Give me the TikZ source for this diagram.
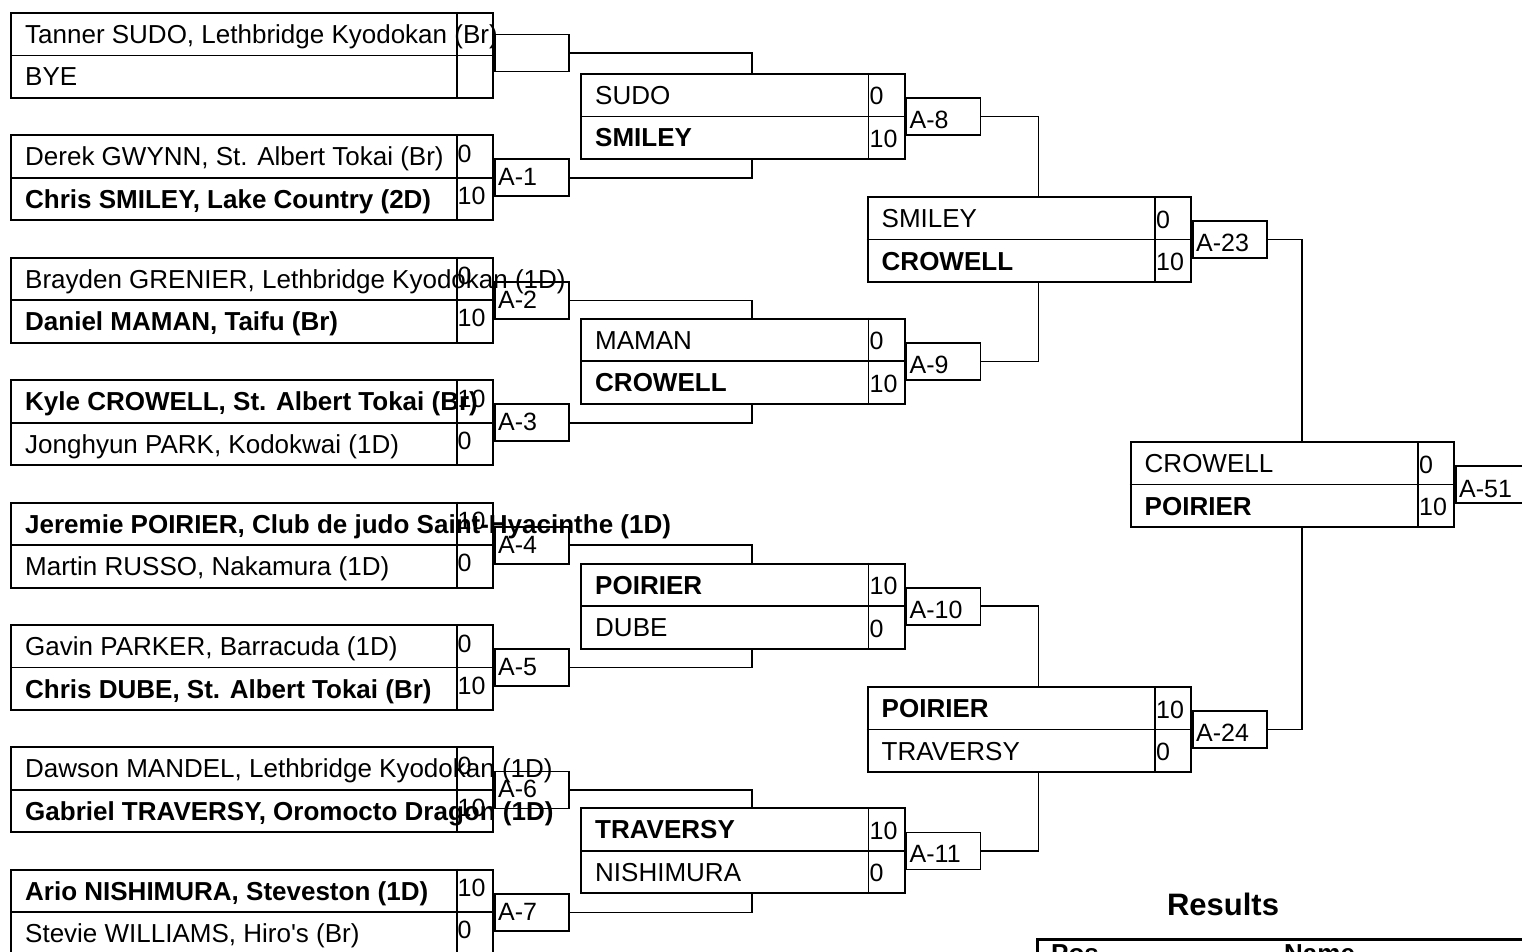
\documentclass[tikz,border=0pt]{standalone}
\usepackage{fontspec}
\setmainfont{Liberation Sans}
\newfontfamily\plainsans{Liberation Sans}
\usetikzlibrary{calc}
\newcommand\nmf{\fontsize{26}{28}\selectfont}
\newcommand\scf{\fontsize{25}{27}\selectfont}
\newcommand\alf{\fontsize{25}{26}\selectfont}
\tikzset{
  nm/.style={font=\nmf, anchor=base west, inner sep=0pt},
  sc/.style={font=\scf, anchor=base west, inner sep=0pt},
  al/.style={font=\alf, anchor=base west, inner sep=0pt},
  mbox/.style={draw, line width=2pt, rectangle, inner sep=0pt, minimum height=85, anchor=north west},
  abox/.style={draw, line width=1.8pt, rectangle, inner sep=0pt, minimum width=74, minimum height=37, anchor=west},
  ln/.style={line width=1.8pt},
  cn/.style={line width=1.6pt},
}
% round one match: name, top, toptext, topscore, bottext, botscore
\newcommand\rone[6]{%
  \node[nm] (#1t) at (25,{#2+31.5}) {#3};
  \node[nm] (#1b) at (25,{#2+74}) {#5};
  \node[sc] (#1ts) at (457.5,{#2+28}) {#4};
  \node[sc] (#1bs) at (457.5,{#2+70}) {#6};
  \node[mbox, minimum width=482] (#1) at (10,#2) {};
  \draw[ln] (#1.west) -- (#1.east);
  \draw[ln] ($(#1.north east)+(-37,0)$) -- ($(#1.south east)+(-37,0)$);
}
% later match: name, left, top, toptext, topscore, bottext, botscore
\newcommand\rgen[7]{%
  \node[nm] (#1t) at ({#2+15},{#3+31.5}) {#4};
  \node[nm] (#1b) at ({#2+15},{#3+74}) {#6};
  \node[sc] (#1ts) at ({#2+289.5},{#3+32}) {#5};
  \node[sc] (#1bs) at ({#2+289.5},{#3+74.5}) {#7};
  \node[mbox, minimum width=323.5] (#1) at (#2,#3) {};
  \draw[ln] (#1.west) -- (#1.east);
  \draw[ln] ($(#1.north east)+(-37,0)$) -- ($(#1.south east)+(-37,0)$);
}
\begin{document}
\begin{tikzpicture}[x=1pt,y=-1pt]
\useasboundingbox (0,0) rectangle (1522,952);
\clip (0,0) rectangle (1522,952);

% ---------- round 1 ----------
\rone{p0}{12}{Tanner SUDO, Lethbridge Kyodokan (Br)}{}{BYE}{}
\rone{p1}{134.4}{Derek GWYNN, St. Albert Tokai (Br)}{0}{\bfseries Chris SMILEY, Lake Country (2D)}{10}
\rone{p2}{256.8}{Brayden GRENIER, Lethbridge Kyodokan (1D)}{0}{\bfseries Daniel MAMAN, Taifu (Br)}{10}
\rone{p3}{379.2}{\bfseries Kyle CROWELL, St. Albert Tokai (Br)}{10}{Jonghyun PARK, Kodokwai (1D)}{0}
\rone{p4}{501.6}{\bfseries Jeremie POIRIER, Club de judo Saint-Hyacinthe (1D)}{10}{Martin RUSSO, Nakamura (1D)}{0}
\rone{p5}{624}{Gavin PARKER, Barracuda (1D)}{0}{\bfseries Chris DUBE, St. Albert Tokai (Br)}{10}
\rone{p6}{746.4}{Dawson MANDEL, Lethbridge Kyodokan (1D)}{0}{\bfseries Gabriel TRAVERSY, Oromocto Dragon (1D)}{10}
\rone{p7}{868.8}{\bfseries Ario NISHIMURA, Steveston (1D)}{10}{Stevie WILLIAMS, Hiro{\plainsans'}s (Br)}{0}

% ---------- round 2 ----------
\rgen{q0}{580}{73}{SUDO}{0}{\bfseries SMILEY}{10}
\rgen{q1}{580}{317.8}{MAMAN}{0}{\bfseries CROWELL}{10}
\rgen{q2}{580}{562.6}{\bfseries POIRIER}{10}{DUBE}{0}
\rgen{q3}{580}{807.4}{\bfseries TRAVERSY}{10}{NISHIMURA}{0}

% ---------- round 3 ----------
\rgen{s0}{866.5}{196}{SMILEY}{0}{\bfseries CROWELL}{10}
\rgen{s1}{866.5}{686}{\bfseries POIRIER}{10}{TRAVERSY}{0}

% ---------- round 4 ----------
\rgen{f0}{1129.5}{441}{CROWELL}{0}{\bfseries POIRIER}{10}

% ---------- match labels (round 1) ----------
\node[al] (l1) at ($(p1.east)+(4,8)$) {A-1};
\node[al] (l2) at ($(p2.east)+(4,8)$) {A-2};
\node[al] (l3) at ($(p3.east)+(4,8)$) {A-3};
\node[al] (l4) at ($(p4.east)+(4,8)$) {A-4};
\node[al] (l5) at ($(p5.east)+(4,8)$) {A-5};
\node[al] (l6) at ($(p6.east)+(4,8)$) {A-6};
\node[al] (l7) at ($(p7.east)+(4,8)$) {A-7};
\node[abox] (a0) at ($(p0.east)+(0,-2.5)$) {};
\node[abox] (a1) at (p1.east) {};
\node[abox] (a2) at (p2.east) {};
\node[abox] (a3) at (p3.east) {};
\node[abox] (a4) at (p4.east) {};
\node[abox] (a5) at (p5.east) {};
\node[abox] (a6) at (p6.east) {};
\node[abox] (a7) at (p7.east) {};

% ---------- match labels (later rounds) ----------
\node[al] (m8) at ($(q0.east)+(4,12)$) {A-8};
\node[al] (m9) at ($(q1.east)+(4,12)$) {A-9};
\node[al] (m10) at ($(q2.east)+(4,12)$) {A-10};
\node[al] (m11) at ($(q3.east)+(4,12)$) {A-11};
\node[al] (m23) at ($(s0.east)+(4,12)$) {A-23};
\node[al] (m24) at ($(s1.east)+(4,12)$) {A-24};
\node[al] (m51) at ($(f0.east)+(4,13)$) {A-51};
\node[abox] (b0) at (q0.east) {};
\node[abox] (b1) at (q1.east) {};
\node[abox] (b2) at (q2.east) {};
\node[abox] (b3) at (q3.east) {};
\node[abox] (c0) at (s0.east) {};
\node[abox] (c1) at (s1.east) {};
\node[abox] (d0) at (f0.east) {};

% ---------- connectors ----------
\draw[cn] (a0.east) -| ($(q0.north west)+(172,0)$);
\draw[cn] (a1.east) -| ($(q0.south west)+(172,0)$);
\draw[cn] (a2.east) -| ($(q1.north west)+(172,0)$);
\draw[cn] (a3.east) -| ($(q1.south west)+(172,0)$);
\draw[cn] (a4.east) -| ($(q2.north west)+(172,0)$);
\draw[cn] (a5.east) -| ($(q2.south west)+(172,0)$);
\draw[cn] (a6.east) -| ($(q3.north west)+(172,0)$);
\draw[cn] (a7.east) -| ($(q3.south west)+(172,0)$);
\draw[cn] (b0.east) -| ($(s0.north west)+(172,0)$);
\draw[cn] (b1.east) -| ($(s0.south west)+(172,0)$);
\draw[cn] (b2.east) -| ($(s1.north west)+(172,0)$);
\draw[cn] (b3.east) -| ($(s1.south west)+(172,0)$);
\draw[cn] (c0.east) -| ($(f0.north west)+(172.5,0)$);
\draw[cn] (c1.east) -| ($(f0.south west)+(172.5,0)$);

% ---------- results ----------
\node[font=\bfseries\fontsize{31}{34}\selectfont, anchor=base, inner sep=0pt] (res) at (1223,915) {Results};
\node[draw, line width=3pt, rectangle, inner sep=0pt, minimum width=600, minimum height=120, anchor=north west] (tbl) at (1036,937.5) {};
\node[font=\bfseries\nmf, anchor=base west, inner sep=0pt] (hpos) at (1051,962) {Pos};
\node[font=\bfseries\nmf, anchor=base west, inner sep=0pt] (hname) at (1284,962) {Name};
\end{tikzpicture}
\end{document}
